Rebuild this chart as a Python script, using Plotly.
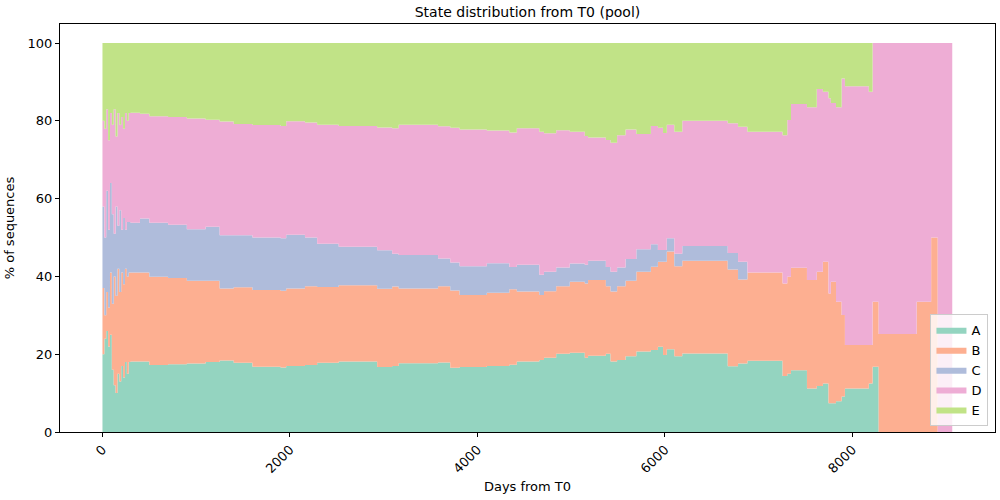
import plotly.graph_objects as go

days = [0, 20, 40, 60, 80, 100, 120, 140, 160, 180, 200, 220, 240, 260, 280,
        300, 400, 500, 700, 900, 1100, 1250, 1400, 1600, 1900, 1960, 2160, 2290,
        2520, 2930, 3090, 3160, 3580, 3710, 3810, 4100, 4340, 4420, 4660, 4710,
        4840, 4985, 5145, 5180, 5370, 5420, 5490, 5580, 5695, 5850, 5925, 5980,
        6020, 6100, 6185, 6670, 6780, 6880, 7255, 7305, 7345, 7515, 7620, 7685,
        7745, 7770, 7825, 7885, 7920, 8175, 8215, 8280, 8685, 8840, 8910, 9065]

# cumulative upper edges (percent)
top_A = [20, 24, 26, 22, 25, 16, 12, 10, 15, 13, 17, 14, 18, 15, 18,
         18.1, 18.1, 17.2, 17.4, 17.6, 18.0, 18.4, 17.8, 16.8, 16.6, 17.0, 17.2, 17.8,
         18.1, 16.7, 17.0, 17.7, 17.9, 16.5, 16.7, 17.0, 17.3, 18.1, 18.5, 19.1,
         20.1, 20.4, 19.1, 19.6, 20.1, 18.1, 18.5, 19.5, 20.7, 21.1, 21.9, 19.8,
         21.3, 19.5, 20.2, 16.9, 17.6, 18.3, 14.4, 15.0, 15.9, 11.2, 11.8, 12.5,
         7.4, 7.4, 7.9, 9.1, 11.2, 12.5, 16.8, 0, 0, 0, 0, 0]
top_B = [37, 30, 36, 32, 41, 33, 40, 35, 42, 36, 41, 38, 42, 40, 41,
         41.0, 41.0, 39.9, 39.6, 38.9, 38.9, 36.9, 37.2, 36.5, 36.3, 36.9, 37.5, 37.3,
         37.7, 36.8, 37.4, 36.9, 37.5, 36.4, 35.2, 35.8, 36.7, 36.1, 35.2, 36.2,
         37.5, 38.6, 38.2, 39.1, 37.5, 36.1, 37.5, 38.9, 41.2, 42.5, 43.8, 43.8,
         46.4, 42.6, 44.0, 41.8, 39.2, 41.0, 38.2, 39.9, 42.2, 39.1, 41.2, 43.8,
         35.6, 38.6, 33.5, 30.1, 22.4, 22.4, 33.5, 25.2, 33.5, 50.0, 0, 0]
top_C = [58, 50, 62, 52, 64, 56, 51, 58, 53, 57, 52, 55, 52, 54, 54,
         53.8, 54.9, 53.8, 53.3, 52.1, 52.8, 50.6, 50.6, 50.0, 49.8, 50.7, 50.0, 48.4,
         47.6, 46.7, 45.8, 45.5, 44.6, 43.6, 42.6, 43.4, 42.4, 43.0, 40.4, 41.2,
         42.3, 43.3, 43.0, 44.0, 42.4, 41.2, 42.3, 44.5, 47.0, 48.3, 46.8, 46.8,
         49.8, 45.8, 47.8, 46.0, 43.8, 41.0, 38.2, 39.9, 42.2, 39.1, 41.2, 43.8,
         35.6, 38.6, 33.5, 30.1, 22.4, 22.4, 33.5, 25.2, 33.5, 50.0, 0, 0]
top_D = [80, 78, 83, 75, 82, 79, 83, 76, 82, 79, 81, 78, 82, 80, 82,
         82.1, 81.8, 81.2, 81.0, 80.6, 80.3, 79.8, 79.2, 78.9, 78.7, 79.9, 79.6, 79.0,
         78.7, 78.3, 78.1, 79.0, 78.6, 78.2, 77.8, 77.5, 77.0, 78.1, 77.2, 76.8,
         77.6, 77.2, 76.1, 75.7, 75.1, 74.4, 76.3, 77.8, 76.6, 78.7, 78.2, 76.9,
         79.0, 77.2, 80.0, 79.4, 78.5, 77.2, 76.3, 80.2, 84.3, 83.5, 88.2, 87.5,
         85.8, 84.6, 83.5, 90.9, 88.9, 87.5, 100, 100, 100, 100, 100, 100]

states = ["A", "B", "C", "D", "E"]
colors = ["#94d4c0", "#fdaf91", "#afbcdb", "#eeadd5", "#c1e387"]

series = {
    "A": top_A,
    "B": [b - a for a, b in zip(top_A, top_B)],
    "C": [c - b for b, c in zip(top_B, top_C)],
    "D": [d - c for c, d in zip(top_C, top_D)],
    "E": [100 - d for d in top_D],
}

fig = go.Figure()
for s, col in zip(states, colors):
    fig.add_trace(go.Scatter(
        x=days, y=series[s], name=s, mode="lines",
        stackgroup="one", line=dict(width=0, shape="hv", color=col),
        fillcolor=col,
    ))

font = "DejaVu Sans, sans-serif"
fig.update_layout(
    width=1000, height=500,
    margin=dict(l=60, r=5, t=24, b=68),
    plot_bgcolor="white", paper_bgcolor="white",
    font=dict(family=font, size=13, color="black"),
    title=dict(text="State distribution from T0 (pool)", x=0.5, xref="paper",
               xanchor="center", y=0.985, yanchor="top", font=dict(size=14)),
    showlegend=True,
    legend=dict(x=0.993, y=0.015, xanchor="right", yanchor="bottom",
                bgcolor="rgba(255,255,255,0.8)", bordercolor="#cccccc", borderwidth=1,
                font=dict(size=13), traceorder="normal"),
)
fig.update_xaxes(range=[-453, 9521], tickvals=[0, 2000, 4000, 6000, 8000],
                 tickangle=-45, showgrid=False, zeroline=False,
                 showline=True, linecolor="black", linewidth=1, mirror=True,
                 ticks="outside", ticklen=4, tickcolor="black",
                 title=dict(text="Days from T0", standoff=6, font=dict(size=13)))
fig.update_yaxes(range=[0, 104.9], tickvals=[0, 20, 40, 60, 80, 100],
                 showgrid=False, zeroline=False,
                 showline=True, linecolor="black", linewidth=1, mirror=True,
                 ticks="outside", ticklen=4, tickcolor="black",
                 title=dict(text="% of sequences", standoff=10, font=dict(size=13)))

fig.write_html("out.html")
